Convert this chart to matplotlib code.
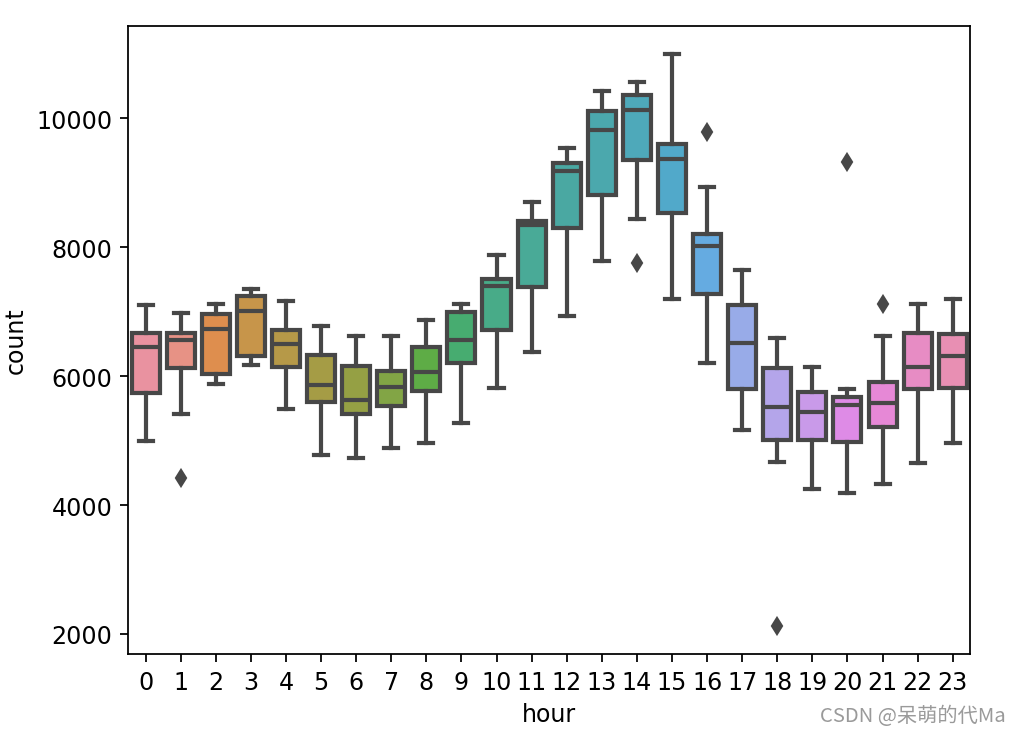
import numpy as np
import matplotlib
matplotlib.use('Agg')
import matplotlib.pyplot as plt
import seaborn as sns

# 各小时的箱线图统计量
hours = list(range(24))
whis_hi = [7096, 6984, 7120, 7351, 7167, 6782, 6622, 6622, 6877, 7120, 7878, 8696,
           9538, 10415, 10563, 10992, 8933, 7641, 6593, 6148, 5804, 6622, 7120, 7197]
q3 = [6670, 6670, 6960, 7250, 6723, 6326, 6160, 6083, 6444, 6996, 7511, 8412,
      9301, 10119, 10356, 9597, 8204, 7096, 6119, 5751, 5674, 5911, 6670, 6646]
med = [6444, 6563, 6729, 7013, 6492, 5858, 5627, 5834, 6071, 6563, 7393, 8341,
       9188, 9822, 10130, 9366, 8015, 6516, 5514, 5437, 5555, 5585, 6148, 6308]
q1 = [5745, 6119, 6030, 6308, 6136, 5591, 5407, 5538, 5763, 6207, 6711, 7375,
      8299, 8803, 9348, 8536, 7274, 5804, 5010, 5004, 4981, 5212, 5804, 5822]
whis_lo = [4987, 5407, 5881, 6172, 5490, 4779, 4726, 4886, 4963, 5277, 5822, 6373,
           6936, 7778, 8441, 7197, 6196, 5170, 4667, 4252, 4192, 4329, 4649, 4963]
fliers = {1: [4418], 14: [7760], 16: [9793], 18: [2130], 20: [9319], 21: [7114]}

stats = []
for i in hours:
    stats.append({'med': med[i], 'q1': q1[i], 'q3': q3[i],
                  'whislo': whis_lo[i], 'whishi': whis_hi[i],
                  'fliers': fliers.get(i, [])})

plt.rcParams['font.size'] = 10.8

colors = [sns.desaturate(c, 0.75) for c in sns.husl_palette(24, l=0.69)]
gray = '#474747'
lw = 1.9

fig = plt.figure(figsize=(6.4, 4.674), dpi=158.75)
ax = fig.add_axes([0.126, 0.117, 0.829, 0.847])

bp = ax.bxp(stats, positions=hours, widths=0.8, patch_artist=True,
            boxprops=dict(edgecolor=gray, linewidth=lw),
            whiskerprops=dict(color=gray, linewidth=lw),
            capprops=dict(color=gray, linewidth=lw),
            medianprops=dict(color=gray, linewidth=lw),
            flierprops=dict(marker='d', markerfacecolor=gray, markeredgecolor=gray,
                            markersize=5, linestyle='none'))
for patch, c in zip(bp['boxes'], colors):
    patch.set_facecolor(c)

ax.set_xlim(-0.5, 23.5)
ax.set_xticks(hours)
ax.set_xticklabels([str(h) for h in hours])
ax.set_xlabel('hour')
ax.set_ylabel('count')

fig.text(0.99, 0.02, 'CSDN @呆萌的代Ma', ha='right', va='bottom', fontsize=9.2,
         color='#9a9a9a', family=['Noto Sans CJK SC', 'DejaVu Sans'])

fig.savefig('out.png', dpi=158.75)
